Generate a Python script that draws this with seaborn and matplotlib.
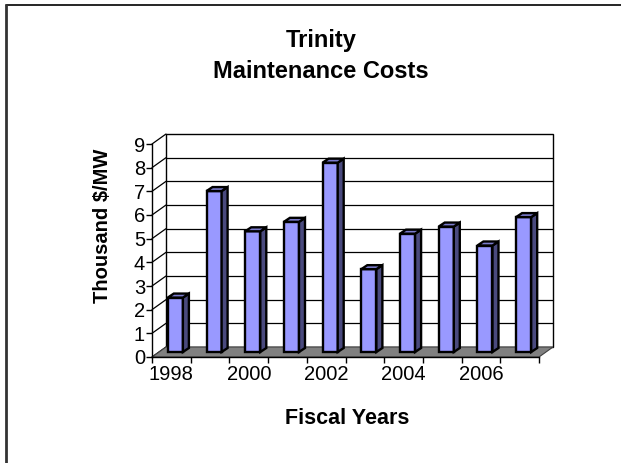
import matplotlib
matplotlib.use("Agg")
import matplotlib.pyplot as plt
import seaborn as sns
import pandas as pd
from matplotlib.transforms import offset_copy
from matplotlib.patches import Polygon, Rectangle
from matplotlib.lines import Line2D

# ---- data ----
years = ["1998", "1999", "2000", "2001", "2002", "2003", "2004", "2005", "2006", "2007"]
costs = [2.3, 6.8, 5.1, 5.5, 8.0, 3.5, 5.0, 5.3, 4.5, 5.7]
tick_labels = ["1998", "", "2000", "", "2002", "", "2004", "", "2006", ""]
y_ticks = list(range(0, 10))

sns.set_theme(style="white")
plt.rcParams["font.family"] = ["Liberation Sans", "DejaVu Sans"]
plt.rcParams["text.color"] = "black"

W, H = 621, 463
fig = plt.figure(figsize=(W / 100, H / 100), dpi=100)
L, R, B, T = 152, 539, 357, 144
ax = fig.add_axes([L / W, 1 - B / H, (R - L) / W, (B - T) / H])
ax.set_facecolor("none")

df = pd.DataFrame({"year": years, "cost": costs})
sns.barplot(data=df, x="year", y="cost", order=years, width=0.39,
            color="#9999FF", saturation=1, edgecolor="black", linewidth=1.7,
            ax=ax, zorder=5)

n = len(years)
ax.set_xlim(-0.5, n - 0.5)
ax.set_ylim(0, 9)

kx = (R - L) / n          # px per x unit
ky = (B - T) / 9.0        # px per y unit
DX, DY = 14, 10           # depth offset of back wall (px)
dxd, dyd = DX / kx, DY / ky

# back wall
ax.add_patch(Rectangle((-0.5 + dxd, dyd), n, 9, facecolor="white",
                       edgecolor="black", lw=1.0, clip_on=False, zorder=1))
for yv in y_ticks[1:-1]:
    ax.add_line(Line2D([-0.5 + dxd, n - 0.5 + dxd], [yv + dyd, yv + dyd],
                       color="black", lw=0.9, clip_on=False, zorder=2))
# left wall diagonals
for yv in y_ticks:
    ax.add_line(Line2D([-0.5, -0.5 + dxd], [yv, yv + dyd],
                       color="black", lw=0.9, clip_on=False, zorder=2))
# floor
ax.add_patch(Polygon([(-0.5, 0), (n - 0.5, 0), (n - 0.5 + dxd, dyd), (-0.5 + dxd, dyd)],
                     closed=True, facecolor="#808080", edgecolor="#404040", lw=0.8,
                     clip_on=False, zorder=3))

# 3D bars
btrans = offset_copy(ax.transData, fig=fig, x=4, y=5, units="dots")
sx, sy = 6 / kx, 4 / ky
for p in ax.patches[:]:
    if not (p.get_facecolor()[2] > 0.95 and abs(p.get_width() - 0.39) < 1e-6):
        continue
    p.set_transform(btrans)
    p.set_clip_on(False)
    x0 = p.get_x()
    x1 = x0 + p.get_width()
    h = p.get_height()
    side = Polygon([(x1, 0), (x1 + sx, sy), (x1 + sx, h + sy), (x1, h)], closed=True,
                   facecolor="#4A4A7E", edgecolor="black", lw=1.7,
                   transform=btrans, clip_on=False, zorder=5)
    top = Polygon([(x0, h), (x1, h), (x1 + sx, h + sy), (x0 + sx, h + sy)], closed=True,
                  facecolor="#7B7BCC", edgecolor="black", lw=1.7,
                  transform=btrans, clip_on=False, zorder=5)
    ax.add_patch(side)
    ax.add_patch(top)

# axes spines / ticks
for s in ["top", "right"]:
    ax.spines[s].set_visible(False)
for s in ["left", "bottom"]:
    ax.spines[s].set_visible(True)
    ax.spines[s].set_color("black")
    ax.spines[s].set_linewidth(1.0)
    ax.spines[s].set_zorder(6)

ax.set_yticks(y_ticks)
ax.set_yticklabels([str(v) for v in y_ticks])
ax.tick_params(axis="y", left=True, length=4, width=1, color="black",
               labelsize=14.5, labelcolor="black", pad=1)
ax.set_xticks(range(n))
ax.set_xticklabels(tick_labels)
ax.set_xticks([i - 0.5 for i in range(n + 1)], minor=True)
ax.tick_params(axis="x", which="major", bottom=False, length=0,
               labelsize=14.5, labelcolor="black", pad=6)
ax.tick_params(axis="x", which="minor", bottom=True, length=4, width=1, color="black")

ax.set_xlabel("Fiscal Years", fontsize=15.5, fontweight="bold", color="black")
ax.set_ylabel("Thousand $/MW", fontsize=14.5, fontweight="bold", color="black")
ax.xaxis.set_label_coords((347 - L) / (R - L), (B - 418) / (B - T))
ax.xaxis.label.set_va("center")
ax.yaxis.set_label_coords((103 - L) / (R - L), (B - 225.5) / (B - T))
ax.yaxis.label.set_va("center")

fig.suptitle("Trinity\nMaintenance Costs", x=321 / W, y=1 - 56 / H, ha="center",
             va="center", fontsize=17, fontweight="bold", linespacing=1.5,
             color="black")

# outer chart border (top and left visible)
fig.add_artist(Line2D([6 / W, 1], [1 - 5 / H, 1 - 5 / H], transform=fig.transFigure,
                      color="black", lw=1.2))
fig.add_artist(Line2D([6 / W, 6 / W], [0, 1 - 5 / H], transform=fig.transFigure,
                      color="#333333", lw=2))

fig.savefig("out.png", dpi=100)
